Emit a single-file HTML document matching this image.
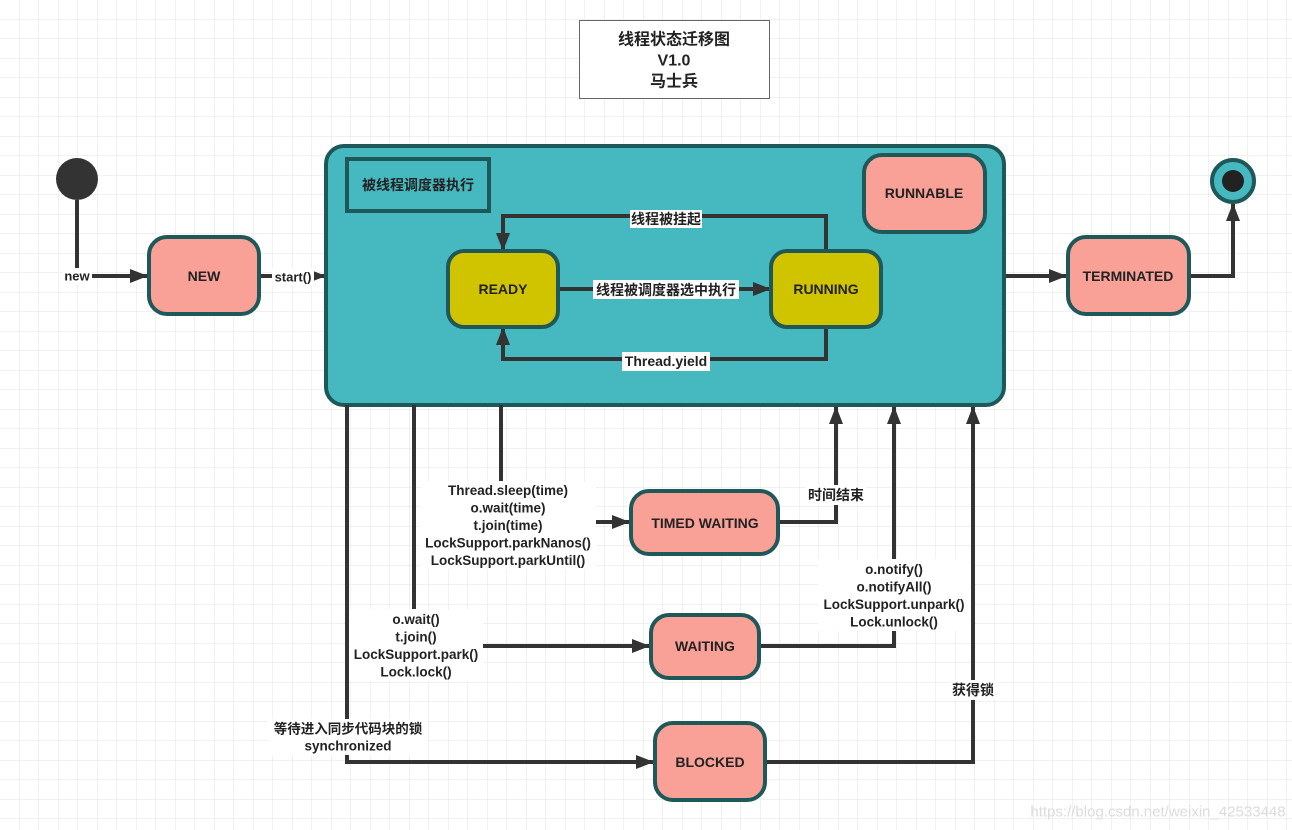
<!DOCTYPE html>
<html><head><meta charset="utf-8"><style>
html,body{margin:0;padding:0;background:#fff}
svg{display:block}
text{font-family:"Liberation Sans","Noto Sans CJK SC",sans-serif;font-weight:bold;fill:#222;text-anchor:middle;dominant-baseline:central}
</style></head><body>
<svg width="1292" height="830" viewBox="0 0 1292 830" xmlns="http://www.w3.org/2000/svg">
<defs>
<pattern id="g" width="19.5" height="19.5" patternUnits="userSpaceOnUse">
<path d="M19.5 0V19.5H0" fill="none" stroke="#e3e3e3" stroke-width="1"/>
</pattern>
<marker id="a" markerWidth="18" markerHeight="16" refX="17" refY="8" orient="auto" markerUnits="userSpaceOnUse" viewBox="0 0 18 16">
<path d="M0,1L18,8L0,15z" fill="#333"/>
</marker>
</defs>
<rect width="1292" height="830" fill="url(#g)"/>

<rect x="579.5" y="20.5" width="190" height="78" fill="#fff" stroke="#666" stroke-width="1"/>
<text x="674" y="40" font-size="16">线程状态迁移图</text>
<text x="674" y="61" font-size="16">V1.0</text>
<text x="674" y="82" font-size="16">马士兵</text>

<circle cx="77" cy="179" r="21" fill="#333"/>
<g stroke="#333" stroke-width="4" fill="none">
<path d="M77 200V276H147" marker-end="url(#a)"/>
<path d="M259 276H325" marker-end="url(#a)"/>
<path d="M1004 276H1066" marker-end="url(#a)"/>
<path d="M1189 276H1233V204" marker-end="url(#a)"/>
</g>
<rect x="62" y="268" width="30" height="16" fill="#fff"/>
<text x="77" y="276" font-size="13">new</text>
<rect x="272" y="268" width="42" height="18" fill="#fff"/>
<text x="293" y="277" font-size="13">start()</text>

<rect x="149" y="237" width="110" height="77" rx="18" fill="#f9a197" stroke="#1e5858" stroke-width="4"/>
<text x="204" y="276" font-size="14">NEW</text>

<rect x="326" y="146" width="678" height="259" rx="18" fill="#45b8c0" stroke="#1e5858" stroke-width="4"/>
<rect x="347" y="159" width="142" height="52" fill="none" stroke="#1e5858" stroke-width="4"/>
<text x="418" y="185" font-size="14">被线程调度器执行</text>
<rect x="864" y="155" width="121" height="77" rx="18" fill="#f9a197" stroke="#1e5858" stroke-width="4"/>
<text x="924" y="193" font-size="14">RUNNABLE</text>

<g stroke="#333" stroke-width="4" fill="none">
<path d="M558 289H770" marker-end="url(#a)"/>
<path d="M826 251V216H503V250" marker-end="url(#a)"/>
<path d="M826 327V359H503V328" marker-end="url(#a)"/>
</g>
<rect x="448" y="251" width="110" height="76" rx="16" fill="#d0c300" stroke="#1e5858" stroke-width="4"/>
<text x="503" y="289" font-size="14">READY</text>
<rect x="771" y="251" width="110" height="76" rx="16" fill="#d0c300" stroke="#1e5858" stroke-width="4"/>
<text x="826" y="289" font-size="14">RUNNING</text>
<rect x="593" y="280" width="146" height="19" fill="#fff"/>
<text x="666" y="290" font-size="14">线程被调度器选中执行</text>
<rect x="630" y="210" width="72" height="18" fill="#fff"/>
<text x="666" y="219" font-size="14">线程被挂起</text>
<rect x="622" y="352" width="88" height="19" fill="#fff"/>
<text x="666" y="361" font-size="14">Thread.yield</text>

<rect x="1068" y="237" width="121" height="77" rx="18" fill="#f9a197" stroke="#1e5858" stroke-width="4"/>
<text x="1128" y="276" font-size="14">TERMINATED</text>
<circle cx="1233" cy="181" r="21" fill="#45b8c0" stroke="#1e5858" stroke-width="4"/>
<circle cx="1233" cy="181" r="11" fill="#222"/>

<g stroke="#333" stroke-width="4" fill="none">
<path d="M501 405V482"/>
<path d="M595 522H629" marker-end="url(#a)"/>
<path d="M414 405V610"/>
<path d="M482 646H649" marker-end="url(#a)"/>
<path d="M347 405V720"/>
<path d="M347 755V762H653" marker-end="url(#a)"/>
<path d="M778 522H836V407" marker-end="url(#a)"/>
<path d="M759 646H894V630"/>
<path d="M894 560V407" marker-end="url(#a)"/>
<path d="M765 762H973V407" marker-end="url(#a)"/>
</g>

<rect x="421" y="481" width="175" height="88" fill="#fff"/>
<text font-size="13.5"><tspan x="508" y="490">Thread.sleep(time)</tspan><tspan x="508" y="507.5">o.wait(time)</tspan><tspan x="508" y="525">t.join(time)</tspan><tspan x="508" y="542.5">LockSupport.parkNanos()</tspan><tspan x="508" y="560">LockSupport.parkUntil()</tspan></text>

<rect x="349" y="609" width="134" height="72" fill="#fff"/>
<text font-size="13.5"><tspan x="416" y="619">o.wait()</tspan><tspan x="416" y="636.5">t.join()</tspan><tspan x="416" y="654">LockSupport.park()</tspan><tspan x="416" y="671.5">Lock.lock()</tspan></text>

<rect x="268" y="719" width="160" height="36" fill="#fff"/>
<text x="348" y="729" font-size="13.5">等待进入同步代码块的锁</text>
<text x="348" y="746" font-size="13.5">synchronized</text>

<rect x="806" y="485" width="60" height="20" fill="#fff"/>
<text x="836" y="495" font-size="14">时间结束</text>
<rect x="818" y="559" width="153" height="72" fill="#fff"/>
<text font-size="13.5"><tspan x="894" y="569">o.notify()</tspan><tspan x="894" y="586.5">o.notifyAll()</tspan><tspan x="894" y="604">LockSupport.unpark()</tspan><tspan x="894" y="621.5">Lock.unlock()</tspan></text>
<rect x="950" y="680" width="46" height="20" fill="#fff"/>
<text x="973" y="690" font-size="14">获得锁</text>

<rect x="631" y="491" width="147" height="63" rx="18" fill="#f9a197" stroke="#1e5858" stroke-width="4"/>
<text x="705" y="523" font-size="14">TIMED WAITING</text>
<rect x="651" y="615" width="108" height="63" rx="18" fill="#f9a197" stroke="#1e5858" stroke-width="4"/>
<text x="705" y="646" font-size="14">WAITING</text>
<rect x="655" y="723" width="110" height="77" rx="18" fill="#f9a197" stroke="#1e5858" stroke-width="4"/>
<text x="710" y="762" font-size="14">BLOCKED</text>

<text x="1158" y="812" font-size="15" style="font-weight:normal;fill:#dcdcdc">https://blog.csdn.net/weixin_42533448</text>
</svg>
</body></html>
